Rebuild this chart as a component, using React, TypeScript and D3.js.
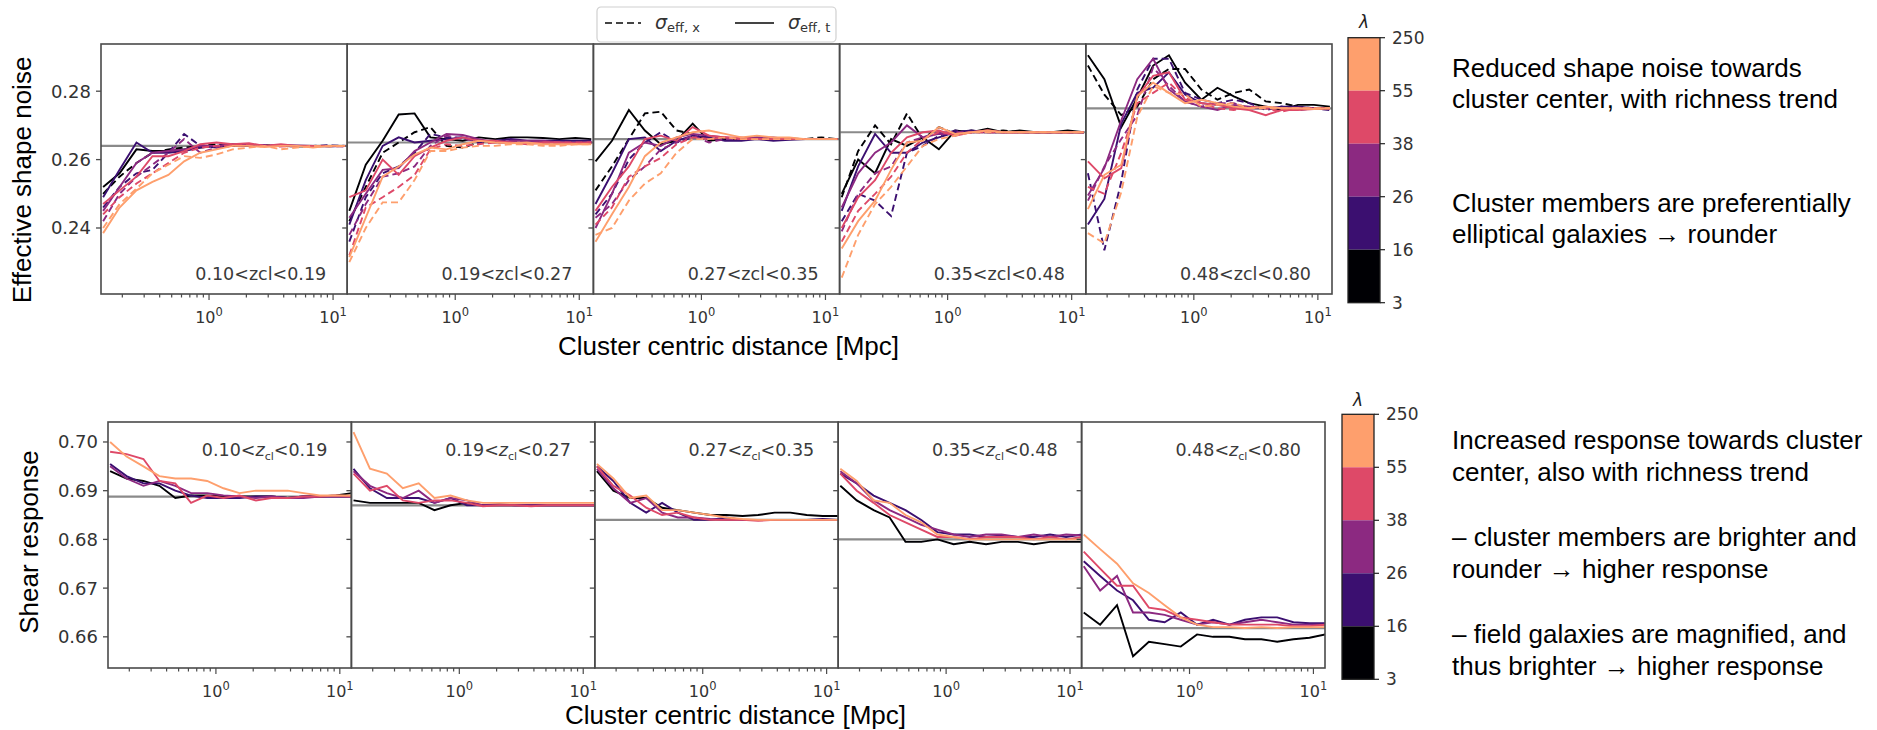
import React from "react";
import * as d3 from "d3";

// ---------- data ----------
const RADII = [0.14, 0.19, 0.26, 0.35, 0.47, 0.63, 0.85, 1.15, 1.55, 2.1, 2.8, 3.8, 5.1, 6.9, 9.3, 12.5];
const LAMBDA_COLORS = ["#000004", "#3b0f70", "#8c2981", "#de4968", "#fe9f6d"];
const LAMBDA_TICKS = ["250", "55", "38", "26", "16", "3"];
const Z_BINS = [["0.10", "0.19"], ["0.19", "0.27"], ["0.27", "0.35"], ["0.35", "0.48"], ["0.48", "0.80"]];
const NOISE_REF = [0.264, 0.265, 0.266, 0.268, 0.275];
const RESP_REF = [0.6888, 0.687, 0.684, 0.680, 0.6618];
const NOISE_TICKS = [0.24, 0.26, 0.28];
const RESP_TICKS = [0.66, 0.67, 0.68, 0.69, 0.70];

// sigma_eff,t (solid), one row per richness bin
const noiseT1 = [
  [0.252, 0.256, 0.263, 0.2625, 0.2625, 0.263, 0.2635, 0.264, 0.264, 0.2642, 0.264, 0.264, 0.2638, 0.264, 0.264, 0.264],
  [0.249, 0.257, 0.265, 0.262, 0.262, 0.2625, 0.2635, 0.264, 0.2645, 0.264, 0.264, 0.2643, 0.264, 0.264, 0.2638, 0.264],
  [0.245, 0.252, 0.259, 0.262, 0.2625, 0.263, 0.264, 0.264, 0.2645, 0.2642, 0.264, 0.264, 0.2641, 0.264, 0.264, 0.264],
  [0.247, 0.251, 0.255, 0.261, 0.261, 0.2625, 0.2645, 0.265, 0.2645, 0.2648, 0.264, 0.2645, 0.264, 0.264, 0.264, 0.264],
  [0.2385, 0.246, 0.251, 0.2535, 0.2555, 0.2595, 0.262, 0.263, 0.264, 0.264, 0.2637, 0.264, 0.264, 0.2635, 0.264, 0.264],
];
// sigma_eff,x (dashed)
const noiseX1 = [
  [0.25, 0.255, 0.259, 0.262, 0.263, 0.2635, 0.264, 0.2645, 0.264, 0.264, 0.2642, 0.264, 0.264, 0.2638, 0.264, 0.264],
  [0.246, 0.252, 0.256, 0.257, 0.262, 0.2675, 0.264, 0.2635, 0.264, 0.2645, 0.264, 0.264, 0.264, 0.264, 0.2642, 0.264],
  [0.242, 0.25, 0.255, 0.2585, 0.262, 0.266, 0.262, 0.2635, 0.264, 0.264, 0.2643, 0.264, 0.264, 0.264, 0.264, 0.2638],
  [0.244, 0.249, 0.253, 0.256, 0.259, 0.262, 0.2635, 0.264, 0.264, 0.2645, 0.264, 0.2638, 0.264, 0.264, 0.264, 0.264],
  [0.24, 0.247, 0.2515, 0.256, 0.2585, 0.261, 0.2605, 0.2615, 0.263, 0.2635, 0.264, 0.263, 0.2635, 0.264, 0.2638, 0.264],
];
const noiseT2 = [
  [0.245, 0.2585, 0.2655, 0.2732, 0.2735, 0.2665, 0.266, 0.2655, 0.2665, 0.266, 0.2665, 0.2665, 0.2663, 0.266, 0.2663, 0.266],
  [0.241, 0.254, 0.264, 0.2665, 0.265, 0.2655, 0.266, 0.2665, 0.2655, 0.2655, 0.266, 0.2655, 0.2655, 0.2655, 0.2655, 0.2655],
  [0.243, 0.25, 0.257, 0.2575, 0.2625, 0.265, 0.2675, 0.2672, 0.266, 0.265, 0.2655, 0.2655, 0.2655, 0.265, 0.265, 0.265],
  [0.249, 0.251, 0.26, 0.2555, 0.261, 0.2635, 0.2655, 0.2665, 0.2655, 0.2655, 0.265, 0.2648, 0.265, 0.265, 0.2648, 0.265],
  [0.2315, 0.243, 0.255, 0.258, 0.2615, 0.2635, 0.263, 0.2645, 0.2655, 0.265, 0.2648, 0.265, 0.2645, 0.2645, 0.2645, 0.2645],
];
const noiseX2 = [
  [0.242, 0.252, 0.262, 0.265, 0.268, 0.2695, 0.264, 0.2635, 0.265, 0.2655, 0.265, 0.265, 0.265, 0.265, 0.2652, 0.265],
  [0.236, 0.249, 0.256, 0.258, 0.262, 0.2675, 0.2665, 0.2665, 0.265, 0.2655, 0.2655, 0.265, 0.265, 0.265, 0.265, 0.265],
  [0.238, 0.247, 0.255, 0.256, 0.258, 0.264, 0.267, 0.266, 0.2655, 0.265, 0.265, 0.2652, 0.265, 0.265, 0.265, 0.265],
  [0.232, 0.246, 0.249, 0.252, 0.2555, 0.263, 0.2645, 0.264, 0.2645, 0.265, 0.265, 0.2645, 0.265, 0.265, 0.265, 0.265],
  [0.23, 0.24, 0.2475, 0.2475, 0.254, 0.2625, 0.2625, 0.2635, 0.264, 0.264, 0.2645, 0.2645, 0.264, 0.264, 0.2645, 0.2645],
];
const noiseT3 = [
  [0.2595, 0.2655, 0.2745, 0.2685, 0.2645, 0.2655, 0.2705, 0.2655, 0.266, 0.266, 0.2665, 0.266, 0.2662, 0.266, 0.266, 0.266],
  [0.247, 0.256, 0.266, 0.2665, 0.2625, 0.2655, 0.267, 0.2665, 0.2655, 0.2655, 0.266, 0.2655, 0.2658, 0.266, 0.266, 0.266],
  [0.24, 0.25, 0.262, 0.265, 0.264, 0.2665, 0.2675, 0.267, 0.2665, 0.266, 0.2665, 0.2665, 0.266, 0.266, 0.266, 0.266],
  [0.245, 0.252, 0.258, 0.266, 0.267, 0.2655, 0.2695, 0.267, 0.2665, 0.2665, 0.266, 0.266, 0.266, 0.266, 0.266, 0.266],
  [0.236, 0.244, 0.252, 0.261, 0.265, 0.2665, 0.268, 0.2685, 0.2675, 0.2665, 0.267, 0.2665, 0.2665, 0.266, 0.266, 0.266],
];
const noiseX3 = [
  [0.251, 0.258, 0.266, 0.2735, 0.274, 0.2685, 0.2675, 0.2655, 0.2665, 0.266, 0.266, 0.266, 0.266, 0.266, 0.2665, 0.266],
  [0.244, 0.25, 0.26, 0.265, 0.268, 0.265, 0.2665, 0.2665, 0.266, 0.266, 0.2665, 0.266, 0.266, 0.266, 0.266, 0.266],
  [0.243, 0.247, 0.254, 0.258, 0.263, 0.265, 0.267, 0.265, 0.266, 0.266, 0.266, 0.266, 0.266, 0.266, 0.266, 0.266],
  [0.241, 0.246, 0.255, 0.258, 0.2605, 0.2645, 0.2665, 0.266, 0.2665, 0.266, 0.266, 0.266, 0.266, 0.266, 0.266, 0.266],
  [0.238, 0.24, 0.248, 0.253, 0.256, 0.262, 0.266, 0.266, 0.2665, 0.266, 0.266, 0.266, 0.266, 0.266, 0.266, 0.266],
];
const noiseT4 = [
  [0.25, 0.26, 0.256, 0.266, 0.264, 0.2665, 0.263, 0.2685, 0.268, 0.269, 0.268, 0.2685, 0.268, 0.268, 0.2685, 0.268],
  [0.245, 0.258, 0.2675, 0.262, 0.262, 0.265, 0.2665, 0.268, 0.2685, 0.268, 0.268, 0.268, 0.268, 0.268, 0.268, 0.268],
  [0.246, 0.256, 0.262, 0.265, 0.27, 0.2665, 0.2675, 0.2675, 0.268, 0.2685, 0.268, 0.268, 0.268, 0.268, 0.268, 0.268],
  [0.24, 0.249, 0.254, 0.262, 0.2665, 0.268, 0.2685, 0.267, 0.268, 0.2685, 0.268, 0.268, 0.268, 0.268, 0.268, 0.268],
  [0.234, 0.242, 0.248, 0.257, 0.265, 0.2655, 0.2695, 0.2675, 0.268, 0.2685, 0.268, 0.268, 0.268, 0.268, 0.268, 0.268],
];
const noiseX4 = [
  [0.249, 0.2625, 0.27, 0.2645, 0.2735, 0.266, 0.2695, 0.2675, 0.2685, 0.268, 0.2685, 0.268, 0.268, 0.268, 0.268, 0.268],
  [0.242, 0.25, 0.248, 0.2435, 0.262, 0.264, 0.267, 0.2685, 0.268, 0.268, 0.268, 0.268, 0.268, 0.268, 0.268, 0.268],
  [0.239, 0.25, 0.256, 0.258, 0.265, 0.2665, 0.268, 0.268, 0.268, 0.268, 0.268, 0.268, 0.268, 0.268, 0.268, 0.268],
  [0.236, 0.245, 0.25, 0.255, 0.262, 0.266, 0.268, 0.2675, 0.268, 0.268, 0.268, 0.268, 0.268, 0.268, 0.268, 0.268],
  [0.2255, 0.238, 0.247, 0.252, 0.258, 0.264, 0.266, 0.267, 0.268, 0.268, 0.268, 0.268, 0.268, 0.268, 0.268, 0.268],
];
const noiseT5 = [
  [0.2905, 0.2835, 0.2695, 0.278, 0.2875, 0.2905, 0.2825, 0.2775, 0.281, 0.2785, 0.2765, 0.2755, 0.2745, 0.276, 0.276, 0.2755],
  [0.241, 0.2485, 0.2705, 0.2795, 0.281, 0.2855, 0.279, 0.2765, 0.276, 0.2755, 0.275, 0.275, 0.2755, 0.2755, 0.275, 0.275],
  [0.2495, 0.2575, 0.2715, 0.2835, 0.2895, 0.2805, 0.277, 0.2755, 0.2745, 0.276, 0.2755, 0.275, 0.275, 0.2752, 0.275, 0.275],
  [0.2595, 0.2545, 0.2575, 0.2785, 0.2845, 0.2855, 0.2775, 0.2765, 0.276, 0.275, 0.2745, 0.273, 0.2745, 0.2745, 0.2748, 0.275],
  [0.2455, 0.2555, 0.2585, 0.2785, 0.2825, 0.2795, 0.2765, 0.2775, 0.2765, 0.2755, 0.275, 0.2755, 0.275, 0.275, 0.2748, 0.275],
];
const noiseX5 = [
  [0.2875, 0.279, 0.273, 0.2755, 0.2835, 0.2865, 0.2865, 0.2805, 0.2775, 0.2795, 0.2805, 0.277, 0.2765, 0.2755, 0.275, 0.275],
  [0.256, 0.2335, 0.2535, 0.2805, 0.2895, 0.2895, 0.2795, 0.2775, 0.2765, 0.2775, 0.2765, 0.2745, 0.2755, 0.2745, 0.275, 0.2745],
  [0.248, 0.258, 0.266, 0.273, 0.287, 0.2815, 0.277, 0.2755, 0.2765, 0.2765, 0.275, 0.2755, 0.275, 0.275, 0.275, 0.275],
  [0.252, 0.25, 0.262, 0.2765, 0.2795, 0.2825, 0.278, 0.2765, 0.275, 0.2745, 0.2755, 0.275, 0.274, 0.275, 0.275, 0.275],
  [0.2385, 0.2355, 0.2505, 0.2725, 0.2815, 0.2795, 0.279, 0.2755, 0.276, 0.2765, 0.275, 0.275, 0.275, 0.275, 0.275, 0.275],
];

// shear response
const resp1 = [
  [0.694, 0.6925, 0.692, 0.691, 0.6885, 0.689, 0.689, 0.6888, 0.6888, 0.6888, 0.6888, 0.6885, 0.6888, 0.6888, 0.689, 0.6895],
  [0.6955, 0.693, 0.6915, 0.6915, 0.69, 0.689, 0.6885, 0.6885, 0.6885, 0.6888, 0.6888, 0.6885, 0.6888, 0.6888, 0.6888, 0.6888],
  [0.695, 0.6925, 0.691, 0.692, 0.691, 0.6895, 0.6895, 0.689, 0.6888, 0.6885, 0.6888, 0.6885, 0.6885, 0.6888, 0.6888, 0.6888],
  [0.698, 0.6975, 0.6965, 0.692, 0.6915, 0.6875, 0.689, 0.6885, 0.689, 0.688, 0.6885, 0.6885, 0.6888, 0.6888, 0.689, 0.6888],
  [0.7, 0.697, 0.695, 0.693, 0.6925, 0.6925, 0.692, 0.6905, 0.6895, 0.69, 0.69, 0.69, 0.6895, 0.689, 0.689, 0.689],
];
const resp2 = [
  [0.688, 0.6875, 0.6875, 0.6875, 0.6875, 0.686, 0.687, 0.6875, 0.687, 0.687, 0.687, 0.687, 0.687, 0.687, 0.687, 0.687],
  [0.6945, 0.6905, 0.6885, 0.6885, 0.6885, 0.6875, 0.6885, 0.687, 0.687, 0.6872, 0.687, 0.687, 0.687, 0.687, 0.687, 0.687],
  [0.694, 0.691, 0.6895, 0.6885, 0.69, 0.6875, 0.6885, 0.688, 0.687, 0.687, 0.687, 0.687, 0.687, 0.687, 0.687, 0.687],
  [0.6935, 0.69, 0.691, 0.688, 0.6875, 0.688, 0.688, 0.6875, 0.6868, 0.687, 0.687, 0.6868, 0.687, 0.687, 0.687, 0.687],
  [0.702, 0.6945, 0.6935, 0.6905, 0.6915, 0.6885, 0.689, 0.688, 0.6875, 0.6875, 0.6875, 0.6875, 0.6875, 0.6875, 0.6875, 0.6875],
];
const resp3 = [
  [0.694, 0.69, 0.6885, 0.6885, 0.6865, 0.686, 0.6855, 0.685, 0.685, 0.6848, 0.685, 0.6855, 0.6855, 0.685, 0.6848, 0.6848],
  [0.695, 0.692, 0.6875, 0.6855, 0.6875, 0.6855, 0.684, 0.684, 0.6845, 0.684, 0.684, 0.684, 0.684, 0.684, 0.6842, 0.684],
  [0.6945, 0.6905, 0.6875, 0.6885, 0.6855, 0.6845, 0.6845, 0.6842, 0.684, 0.684, 0.684, 0.684, 0.684, 0.684, 0.684, 0.684],
  [0.695, 0.691, 0.689, 0.6865, 0.685, 0.6855, 0.6845, 0.684, 0.684, 0.684, 0.6838, 0.684, 0.684, 0.684, 0.684, 0.684],
  [0.6955, 0.6925, 0.6885, 0.689, 0.686, 0.686, 0.6855, 0.685, 0.6845, 0.6842, 0.684, 0.684, 0.684, 0.684, 0.684, 0.684],
];
const resp4 = [
  [0.691, 0.688, 0.686, 0.6845, 0.6795, 0.6795, 0.68, 0.679, 0.6795, 0.679, 0.6795, 0.6795, 0.679, 0.6795, 0.6795, 0.6795],
  [0.6935, 0.6915, 0.689, 0.6875, 0.686, 0.684, 0.6815, 0.681, 0.681, 0.6805, 0.6808, 0.6805, 0.6805, 0.681, 0.6805, 0.681],
  [0.694, 0.6915, 0.688, 0.686, 0.6845, 0.683, 0.682, 0.681, 0.6805, 0.681, 0.681, 0.6805, 0.681, 0.6805, 0.681, 0.6808],
  [0.6935, 0.69, 0.6875, 0.685, 0.6835, 0.682, 0.6805, 0.6805, 0.68, 0.6805, 0.6805, 0.6805, 0.68, 0.6805, 0.68, 0.6805],
  [0.6945, 0.692, 0.688, 0.6875, 0.685, 0.6835, 0.681, 0.6805, 0.68, 0.68, 0.68, 0.68, 0.68, 0.68, 0.68, 0.68],
];
const resp5 = [
  [0.665, 0.6625, 0.6665, 0.656, 0.659, 0.6585, 0.658, 0.6605, 0.66, 0.66, 0.6595, 0.6595, 0.659, 0.6595, 0.6598, 0.6605],
  [0.6755, 0.6725, 0.6695, 0.6675, 0.6635, 0.663, 0.665, 0.6625, 0.6635, 0.6625, 0.6635, 0.664, 0.664, 0.663, 0.6628, 0.6628],
  [0.6745, 0.6695, 0.6725, 0.665, 0.665, 0.6645, 0.6635, 0.6625, 0.663, 0.6625, 0.663, 0.6635, 0.663, 0.6625, 0.6625, 0.6625],
  [0.6775, 0.674, 0.6705, 0.6705, 0.666, 0.6655, 0.664, 0.6635, 0.663, 0.6625, 0.6625, 0.6625, 0.6625, 0.6622, 0.6622, 0.6625],
  [0.681, 0.678, 0.675, 0.671, 0.669, 0.6665, 0.664, 0.6625, 0.662, 0.662, 0.6618, 0.662, 0.6618, 0.662, 0.662, 0.662],
];

const NOISE_SOLID = [noiseT1, noiseT2, noiseT3, noiseT4, noiseT5];
const NOISE_DASHED = [noiseX1, noiseX2, noiseX3, noiseX4, noiseX5];
const RESPONSE = [resp1, resp2, resp3, resp4, resp5];

const TOP_NOTES = [
  ["Reduced shape noise towards", "cluster center, with richness trend"],
  ["Cluster members are preferentially", "elliptical galaxies \u2192 rounder"],
];
const BOTTOM_NOTES = [
  ["Increased response towards cluster", "center, also with richness trend"],
  ["\u2013 cluster members are brighter and", "rounder \u2192 higher response"],
  ["\u2013 field galaxies are magnified, and", "thus brighter \u2192 higher response"],
];

// ---------- layout ----------
const W = 1877;
const H = 730;
const TOP = { left: 101, right: 1332, top: 44, bottom: 294, xmin: 0.1346, xmax: 13.0, ymin: 0.2207, ymax: 0.2938 };
const BOT = { left: 108, right: 1325, top: 422, bottom: 668, xmin: 0.1346, xmax: 12.4, ymin: 0.6536, ymax: 0.7041 };
const FRAME = "#4a4a4a";
const TICK_TXT = "#333";
const MONO = "DejaVu Sans, sans-serif";
const SANS = "Liberation Sans, Arial, sans-serif";

function Panel({ idx, lay, solid, dashed, refVal, yTicks, showY, italicZ, labelY }) {
  const pw = (lay.right - lay.left) / 5;
  const x0 = lay.left + idx * pw;
  const x = d3.scaleLog().domain([lay.xmin, lay.xmax]).range([x0, x0 + pw]);
  const y = d3.scaleLinear().domain([lay.ymin, lay.ymax]).range([lay.bottom, lay.top]);
  const line = d3.line<number>().x((_, i) => x(RADII[i])).y((v) => y(v));
  const clipId = `clip-${lay.top}-${idx}`;
  const xticks = x.ticks().filter((t) => t >= lay.xmin && t <= lay.xmax);
  const [lo, hi] = Z_BINS[idx];
  const fmtY = d3.format(".2f");
  return (
    <g>
      <clipPath id={clipId}>
        <rect x={x0} y={lay.top} width={pw} height={lay.bottom - lay.top} />
      </clipPath>
      <g clipPath={`url(#${clipId})`}>
        <line x1={x0} x2={x0 + pw} y1={y(refVal)} y2={y(refVal)} stroke="#8a8a8a" strokeWidth={2.2} />
        {LAMBDA_COLORS.map((c, k) => (
          <g key={k}>
            {dashed && (
              <path d={line(dashed[k]) || ""} fill="none" stroke={c} strokeWidth={1.9} strokeDasharray="7,4" />
            )}
            <path d={line(solid[k]) || ""} fill="none" stroke={c} strokeWidth={1.9} />
          </g>
        ))}
      </g>
      <rect x={x0} y={lay.top} width={pw} height={lay.bottom - lay.top} fill="none" stroke={FRAME} strokeWidth={1.6} />
      {yTicks.map((t) => (
        <g key={t}>
          <line x1={x0 - 5} x2={x0} y1={y(t)} y2={y(t)} stroke={FRAME} strokeWidth={1.3} />
          {showY && (
            <text x={x0 - 10} y={y(t)} dy="0.36em" textAnchor="end" fontFamily={MONO} fontSize={18} fill={TICK_TXT}>
              {fmtY(t)}
            </text>
          )}
        </g>
      ))}
      {xticks.map((t, i) => {
        const lg = Math.log10(t);
        const major = Math.abs(lg - Math.round(lg)) < 1e-6;
        return (
          <g key={i}>
            <line x1={x(t)} x2={x(t)} y1={lay.bottom} y2={lay.bottom + (major ? 6 : 3.5)} stroke={FRAME} strokeWidth={1.2} />
            {major && (
              <text x={x(t)} y={lay.bottom + 29} textAnchor="middle" fontFamily={MONO} fontSize={16} fill={TICK_TXT}>
                10<tspan fontSize={11.5} dy={-7}>{Math.round(lg)}</tspan>
              </text>
            )}
          </g>
        );
      })}
      {italicZ ? (
        <text x={x0 + pw - 24} y={labelY} textAnchor="end" fontFamily={MONO} fontSize={17.5} fill="#3a3a3a">
          {lo}&lt;<tspan fontStyle="italic">z</tspan>
          <tspan fontSize={11} dy={4}>cl</tspan>
          <tspan dy={-4}>&lt;{hi}</tspan>
        </text>
      ) : (
        <text x={x0 + pw - 21} y={labelY} textAnchor="end" fontFamily={MONO} fontSize={17.5} fill="#3a3a3a">
          {lo}&lt;zcl&lt;{hi}
        </text>
      )}
    </g>
  );
}

function ColorBar({ x, top, bottom, lamY }) {
  const w = 32;
  const seg = d3.scaleLinear().domain([0, 5]).range([top, bottom]);
  return (
    <g>
      {[4, 3, 2, 1, 0].map((ci, i) => (
        <rect key={ci} x={x} y={seg(i)} width={w} height={seg(i + 1) - seg(i)} fill={LAMBDA_COLORS[ci]} />
      ))}
      <rect x={x} y={top} width={w} height={bottom - top} fill="none" stroke="#222" strokeWidth={1.3} />
      {LAMBDA_TICKS.map((t, i) => (
        <g key={t}>
          <line x1={x + w} x2={x + w + 5} y1={seg(i)} y2={seg(i)} stroke="#222" strokeWidth={1.2} />
          <text x={x + w + 12} y={seg(i)} dy="0.36em" fontFamily={MONO} fontSize={17} fill={TICK_TXT}>
            {t}
          </text>
        </g>
      ))}
      <text x={x + w / 2} y={lamY} textAnchor="middle" fontFamily={MONO} fontStyle="italic" fontSize={17} fill="#222">
        λ
      </text>
    </g>
  );
}

export default function App() {
  return (
    <svg width={W} height={H} style={{ position: "absolute", left: 0, top: 0, background: "#fff" }}>
      <rect x={0} y={0} width={W} height={H} fill="#fff" />
      <g>
        <rect x={597} y={7} width={239} height={35} rx={4} fill="#fff" stroke="#d0d0d0" strokeWidth={1.2} />
        <line x1={605} x2={641} y1={23} y2={23} stroke="#444" strokeWidth={1.8} strokeDasharray="7,4" />
        <text x={655} y={29} fontFamily={MONO} fontSize={19} fill="#333">
          <tspan fontStyle="italic">σ</tspan>
          <tspan fontSize={13} dy={3}>eff, x</tspan>
        </text>
        <line x1={735} x2={774} y1={23} y2={23} stroke="#444" strokeWidth={1.8} />
        <text x={788} y={29} fontFamily={MONO} fontSize={19} fill="#333">
          <tspan fontStyle="italic">σ</tspan>
          <tspan fontSize={13} dy={3}>eff, t</tspan>
        </text>
      </g>

      {Z_BINS.map((_, i) => (
        <Panel
          key={`t${i}`}
          idx={i}
          lay={TOP}
          solid={NOISE_SOLID[i]}
          dashed={NOISE_DASHED[i]}
          refVal={NOISE_REF[i]}
          yTicks={NOISE_TICKS}
          showY={i === 0}
          italicZ={false}
          labelY={280}
        />
      ))}
      {Z_BINS.map((_, i) => (
        <Panel
          key={`b${i}`}
          idx={i}
          lay={BOT}
          solid={RESPONSE[i]}
          dashed={null}
          refVal={RESP_REF[i]}
          yTicks={RESP_TICKS}
          showY={i === 0}
          italicZ={true}
          labelY={456}
        />
      ))}

      <text transform="translate(31,180) rotate(-90)" textAnchor="middle" fontFamily={SANS} fontSize={26} fill="#000">
        Effective shape noise
      </text>
      <text transform="translate(38,542) rotate(-90)" textAnchor="middle" fontFamily={SANS} fontSize={26} fill="#000">
        Shear response
      </text>
      <text x={558} y={355} fontFamily={SANS} fontSize={26} fill="#000">
        Cluster centric distance [Mpc]
      </text>
      <text x={565} y={724} fontFamily={SANS} fontSize={26} fill="#000">
        Cluster centric distance [Mpc]
      </text>

      <ColorBar x={1348} top={37.7} bottom={302.7} lamY={28} />
      <ColorBar x={1342} top={414.3} bottom={679.3} lamY={406} />

      {TOP_NOTES.map((para, p) =>
        para.map((ln, j) => (
          <text key={`tn${p}${j}`} x={1452} y={[77, 212][p] + j * 31} fontFamily={SANS} fontSize={26} fill="#000">
            {ln}
          </text>
        ))
      )}
      {BOTTOM_NOTES.map((para, p) =>
        para.map((ln, j) => (
          <text key={`bn${p}${j}`} x={1452} y={[449, 546, 643][p] + j * 31.5} fontFamily={SANS} fontSize={26} fill="#000">
            {ln}
          </text>
        ))
      )}
    </svg>
  );
}
